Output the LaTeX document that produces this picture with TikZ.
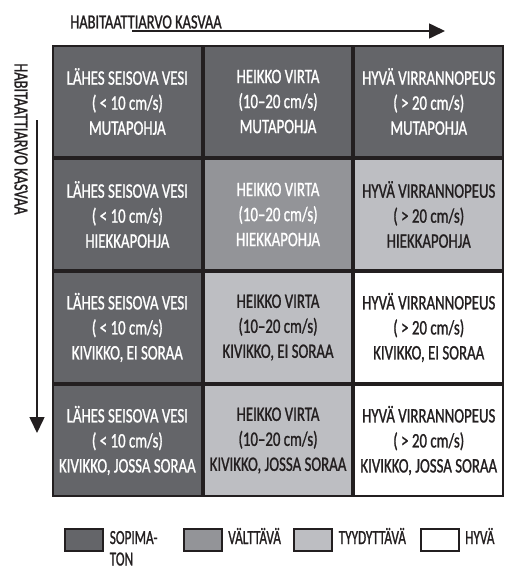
\documentclass[tikz,border=0pt]{standalone}
\usepackage{fontspec}
\setmainfont{Carlito}
\newfontfamily\gillfont{Carlito}[FakeStretch=0.72,FakeBold=1]
\newfontfamily\keyfont{Carlito}[FakeStretch=0.66,FakeBold=1]
\usetikzlibrary{arrows.meta,positioning}
\definecolor{ink}{RGB}{35,31,32}
\definecolor{sopimaton}{RGB}{100,101,105}
\definecolor{valttava}{RGB}{147,148,152}
\definecolor{tyydyttava}{RGB}{189,190,194}
\begin{document}
\begin{tikzpicture}[x=1pt,y=-1pt,line width=1.6pt,
	>={Triangle[length=16pt,width=15pt]},
	cell/.style={draw=ink,line width=2pt,minimum width=148.7pt,minimum height=111pt,inner sep=0pt,align=center,font=\gillfont\fontsize{20.6}{25}\selectfont},
	sop/.style={fill=sopimaton,text=white},
	val/.style={fill=valttava,text=white},
	tyy/.style={fill=tyydyttava,text=ink},
	hyv/.style={fill=white,text=ink},
	keybox/.style={draw=ink,line width=2pt,minimum width=38pt,minimum height=22pt,inner sep=0pt},
	keylabel/.style={anchor=base west,inner sep=0pt,text=ink,font=\keyfont\fontsize{20}{21.5}\selectfont},
	axislabel/.style={inner sep=0pt,text=ink,font=\gillfont\fontsize{20}{22}\selectfont}]
	\useasboundingbox (0,0) rectangle (505,571);
	% axes
	\node[axislabel] (xlab) at (146,22) {HABITAATTIARVO KASVAA};
	\node[axislabel,rotate=-90] (ylab) at (21,139) {HABITAATTIARVO KASVAA};
	\coordinate (xs) at (132,31);
	\coordinate (xe) at (445,31);
	\coordinate (ys) at (37,120);
	\coordinate (ye) at (37,433);
	\draw[->,ink] (xs)--(xe);
	\draw[->,ink] (ys)--(ye);
	% grid of cells
	\foreach \bottom/\sa/\sb/\sc [count=\r] in {MUTAPOHJA/sop/sop/sop,HIEKKAPOHJA/sop/val/tyy,{KIVIKKO, EI SORAA}/sop/tyy/hyv,{KIVIKKO, JOSSA SORAA}/sop/tyy/hyv}{
		\node[cell,\sa] (c\r1) at (127.35,{45+113*(\r-0.5)}) {LÄHES SEISOVA VESI\\(\,<\,10 cm/s)\\\bottom};
		\node[cell,\sb] (c\r2) at (278.05,{45+113*(\r-0.5)}) {HEIKKO VIRTA\\(10–20 cm/s)\\\bottom};
		\node[cell,\sc] (c\r3) at (428.75,{45+113*(\r-0.5)}) {HYVÄ VIRRANNOPEUS\\(\,>\,20 cm/s)\\\bottom};
	}
	% key
	\foreach \s/\x/\t in {sop/84/{\vtop{\hbox{SOPIMA-}\hbox{TON}}},val/202.5/VÄLTTÄVÄ,tyy/313/TYYDYTTÄVÄ,hyv/439.5/HYVÄ}{
		\node[keybox,\s] (k\s) at (\x,540) {};
		\node[keylabel] (l\s) at ([xshift=5pt,yshift=-4pt]k\s.east) {\t};
	}
\end{tikzpicture}
\end{document}
